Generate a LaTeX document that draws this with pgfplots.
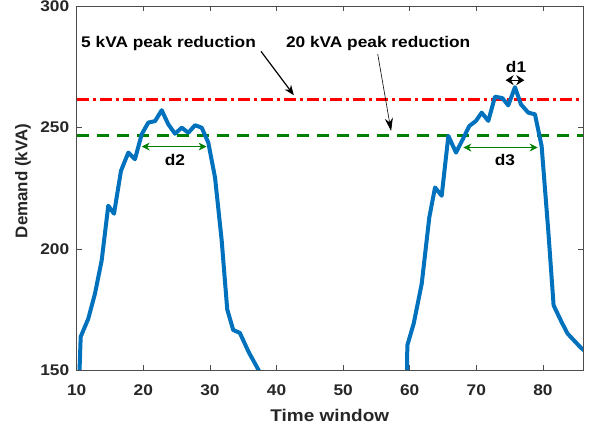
\documentclass[border=0pt]{standalone}
\usepackage{fontspec}
\setmainfont{Liberation Sans}
\newfontfamily\sfs{Liberation Sans}[FakeStretch=1.12]
\usepackage{pgfplots}
\pgfplotsset{compat=1.18}
\usetikzlibrary{arrows.meta}
\definecolor{mblue}{RGB}{0,114,189}
\definecolor{mgreen}{RGB}{0,128,0}
\begin{document}
\begin{tikzpicture}
\begin{axis}[
 width=506.2bp, height=363.5bp, scale only axis,
 xmin=10, xmax=86, ymin=150, ymax=300,
 xtick={10,20,...,80}, ytick={150,200,250,300},
 tick align=inside, major tick length=5bp,
 axis line style={black!70, line width=0.6bp},
 every tick/.style={black!70, line width=0.6bp},
 /pgf/number format/assume math mode=true,
 tick label style={font=\sfs\bfseries\fontsize{15.5}{18}\selectfont, text=black!85},
 xticklabel style={yshift=-11bp},
 yticklabel style={xshift=-4bp},
 xlabel={Time window}, ylabel={Demand (kVA)},
 xlabel style={font=\sfs\bfseries\fontsize{17}{20}\selectfont, text=black!85,
   at={(axis description cs:0.5,-0.125)}, anchor=center},
 ylabel style={font=\bfseries\fontsize{17}{20}\selectfont, text=black!85,
   at={(axis description cs:-0.106,0.52)}, anchor=center},
 clip=true,
]
\addplot[red, line width=2.5bp, dash pattern=on 12bp off 4bp on 3bp off 4bp] coordinates {(10,261.7) (86,261.7)};
\addplot[mgreen, line width=2.5bp, dash pattern=on 12bp off 8bp] coordinates {(10,246.7) (86,246.7)};
\addplot[mblue, line width=4bp, line join=round] coordinates {
(10.3,140) (10.6,163.7) (11.74,171.2) (12.75,181.6) (13.75,195.2) (14.74,217.8) (15.6,214.5) (16.65,232.2) (17.75,239.7) (18.75,237.0) (19.76,247.3) (20.75,252.1) (21.76,252.7) (22.76,257.2) (23.75,251.4) (24.76,247.5) (25.77,250) (26.76,247.9) (27.76,251) (28.77,250) (29.76,243.8) (30.77,229.4) (31.77,203.4) (32.6,175) (33.5,166.5) (34.5,165.3) (35.8,157.5) (37.3,150) (38,146.5)
};
\addplot[mblue, line width=4bp, line join=round] coordinates {
(59.5,130) (59.64,160.2) (60.6,169.2) (61.8,185.6) (62.94,213) (63.8,225.3) (64.8,221.9) (65.8,246.6) (66.95,239.7) (67.96,245.2) (68.95,250.7) (69.95,252.8) (70.8,256.2) (71.8,252.8) (72.8,262.8) (73.9,262.2) (74.8,259.2) (75.8,266.7) (76.7,259.6) (77.8,256.2) (78.8,255.5) (79.8,242.5) (80.8,207.5) (81.6,176.7) (82.8,169.8) (83.7,165) (84.8,161.8) (85.8,158.9) (86.5,157.5)
};
\node[font=\sfs\bfseries\fontsize{15.5}{18}\selectfont, anchor=west, inner sep=0pt] at (axis cs:10.65,284.8) {5 kVA peak reduction};
\node[font=\sfs\bfseries\fontsize{15.5}{18}\selectfont, anchor=west, inner sep=0pt] at (axis cs:41.4,284.8) {20 kVA peak reduction};
\draw[black, line width=1.2bp, -{Stealth[length=10bp,width=8bp]}] (axis cs:37.67,281.5) -- (axis cs:42.6,263.4);
\draw[black, line width=0.6bp, -{Stealth[length=13bp,width=8bp]}] (axis cs:55.2,280.3) -- (axis cs:57.2,248.6);
\draw[black, line width=0.8bp, {Stealth[length=8bp,width=10bp]}-{Stealth[length=8bp,width=10bp]}] (axis cs:74.4,269.6) -- (axis cs:77.2,269.6);
\node[font=\sfs\bfseries\fontsize{15.5}{18}\selectfont] at (axis cs:75.96,275) {d1};
\draw[mgreen, line width=0.8bp, {Stealth[length=8bp,width=8bp]}-{Stealth[length=8bp,width=8bp]}] (axis cs:19.76,242.2) -- (axis cs:29.5,242.2);
\node[font=\sfs\bfseries\fontsize{15.5}{18}\selectfont] at (axis cs:24.76,236.6) {d2};
\draw[mgreen, line width=0.8bp, {Stealth[length=8bp,width=8bp]}-{Stealth[length=8bp,width=8bp]}] (axis cs:68.05,241.8) -- (axis cs:79.2,241.8);
\node[font=\sfs\bfseries\fontsize{15.5}{18}\selectfont] at (axis cs:74.3,236.6) {d3};
\end{axis}
\pgfresetboundingbox
\path[use as bounding box] ([xshift=-76.7bp,yshift=-57bp]current axis.south west) rectangle ([xshift=9.1bp,yshift=6.5bp]current axis.north east);
\end{tikzpicture}
\end{document}
